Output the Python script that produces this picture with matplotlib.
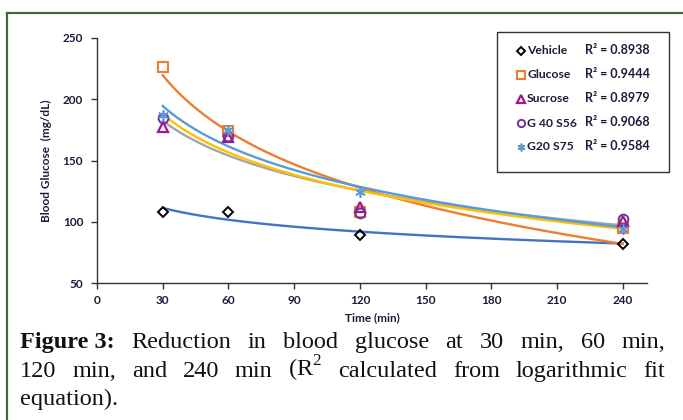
import numpy as np
import matplotlib
matplotlib.use('Agg')
import matplotlib.pyplot as plt
from matplotlib.lines import Line2D
from matplotlib.patches import Rectangle

# data
times = [30, 60, 120, 240]
groups = ['Vehicle', 'Glucose', 'Sucrose', 'G 40 S56', 'G20 S75']
vehicle = [108, 108, 89, 82]
glucose = [226, 174, 108, 95]
sucrose = [177, 169, 112, 101]
g40_s56 = [185, 170, 107, 102]
g20_s75 = [187, 175, 124, 94]
r2_text = ['0.8938', '0.9444', '0.8979', '0.9068', '0.9584']

x_ticks = [0, 30, 60, 90, 120, 150, 180, 210, 240]
y_ticks = [50, 100, 150, 200, 250]

caption_lines = [
    'Reduction in blood glucose at 30 min, 60 min,',
    '120 min, and 240 min (R$^\\mathregular{2}$ calculated from logarithmic fit',
    'equation).',
]

series = [vehicle, glucose, sucrose, g40_s56, g20_s75]
marker_style = [
    dict(marker='D', ms=5, mec='black', mew=1.4),
    dict(marker='s', ms=7.5, mec='#ED7D31', mew=1.5),
    dict(marker='^', ms=7, mec='#A0168E', mew=1.6),
    dict(marker='o', ms=7, mec='#7030A0', mew=1.4),
    dict(marker=(6, 2, 0), ms=7.5, mec='#5B9BD5', mew=1.2),
]
trend_colors = ['#4472C4', '#ED7D31', '#A5A5A5', '#FFC000', '#5B9BD5']

tick_color = '#1c1c3a'
font = 'Lato'
plt.rcParams['mathtext.fontset'] = 'custom'
plt.rcParams['mathtext.rm'] = 'Liberation Serif'

fig = plt.figure(figsize=(6.83, 4.2), dpi=100)
ax = fig.add_axes([97 / 683, 1 - 283 / 420, 550 / 683, 245 / 420])

t = np.array(times, dtype=float)
t_fit = np.linspace(30, 240, 200)
for vals, ms, tc in zip(series, marker_style, trend_colors):
    # logarithmic trendline, like the Excel one
    a, b = np.polyfit(np.log(t), np.array(vals, dtype=float), 1)
    ax.plot(t_fit, a * np.log(t_fit) + b, color=tc, lw=1.7, zorder=2)
for vals, ms in zip(series, marker_style):
    ax.plot(times, vals, ls='none', mfc='none', zorder=3, **ms)

ax.set_xlim(0, 251)
ax.set_ylim(50, 250)
ax.set_xticks(x_ticks)
ax.set_yticks(y_ticks)
for s in ['top', 'right']:
    ax.spines[s].set_visible(False)
for s in ['left', 'bottom']:
    ax.spines[s].set_color('#333333')
    ax.spines[s].set_linewidth(1.0)
ax.tick_params(direction='out', length=4, width=1, color='#333333',
               labelcolor=tick_color, labelsize=8.5)
ax.tick_params(axis='y', pad=6)
ax.tick_params(axis='x', pad=5)
for lab in ax.get_xticklabels() + ax.get_yticklabels():
    lab.set_fontfamily(font)
    lab.set_fontweight('bold')

ax.set_xlabel('Time (min)', fontfamily=font, fontweight='bold', fontsize=8.5,
              color=tick_color, labelpad=4)
ax.set_ylabel('Blood Glucose  (mg/dL)', fontfamily=font, fontweight='bold',
              fontsize=8.5, color=tick_color, labelpad=8)

# legend box drawn by hand so the R² column lines up
W, H = 683.0, 420.0
fig.add_artist(Rectangle((497 / W, 1 - 172 / H), 172 / W, 140 / H,
                         transform=fig.transFigure, fc='white', ec='#333333',
                         lw=1.0))
row_y = [51, 75, 99, 123, 147]
for name, r2, ms, yy in zip(groups, r2_text, marker_style, row_y):
    style = dict(ms)
    style['ms'] = style['ms'] * 0.75
    fig.add_artist(Line2D([521 / W], [1 - yy / H], ls='none', mfc='none',
                          transform=fig.transFigure, **style))
    fig.text(527 / W, 1 - yy / H, name, fontfamily=font, fontweight='bold',
             fontsize=8.7, color=tick_color, va='center')
    fig.text(585 / W, 1 - (yy - 1) / H, 'R\u00b2 = ' + r2, fontfamily=font,
             fontweight='bold', fontsize=9, color=tick_color, va='center')

# green frame (top and left edge only)
frame_col = '#3F6B2F'
fig.add_artist(Line2D([7 / W, 1.0], [1 - 13 / H, 1 - 13 / H],
                      transform=fig.transFigure, color=frame_col, lw=1.6))
fig.add_artist(Line2D([7 / W, 7 / W], [1 - 13 / H, 0.0],
                      transform=fig.transFigure, color=frame_col, lw=1.6))

# caption, justified between x=20 and x=665
cap_font = 'Liberation Serif'
cap_size = 17.5
left, right = 20.0, 665.0
line_y = [348, 377, 405]
fig.canvas.draw()
renderer = fig.canvas.get_renderer()


def text_width(s, weight='normal'):
    tx = fig.text(0, 0, s, fontfamily=cap_font, fontsize=cap_size,
                  fontweight=weight)
    w = tx.get_window_extent(renderer).width
    tx.remove()
    return w


for i, (line, yy) in enumerate(zip(caption_lines, line_y)):
    words = []
    if i == 0:
        words.append(('Figure 3:', 'bold'))
    words += [(w, 'normal') for w in line.split()]
    widths = [text_width(w, wt) for w, wt in words]
    if i < len(caption_lines) - 1:
        gap = (right - left - sum(widths)) / (len(words) - 1)
    else:
        gap = text_width('a b') - text_width('ab')
    x = left
    for (w, wt), wd in zip(words, widths):
        fig.text(x / W, 1 - yy / H, w, fontfamily=cap_font, fontsize=cap_size,
                 fontweight=wt, va='baseline', color='#111111')
        x += wd + gap

fig.savefig('out.png', dpi=100)
